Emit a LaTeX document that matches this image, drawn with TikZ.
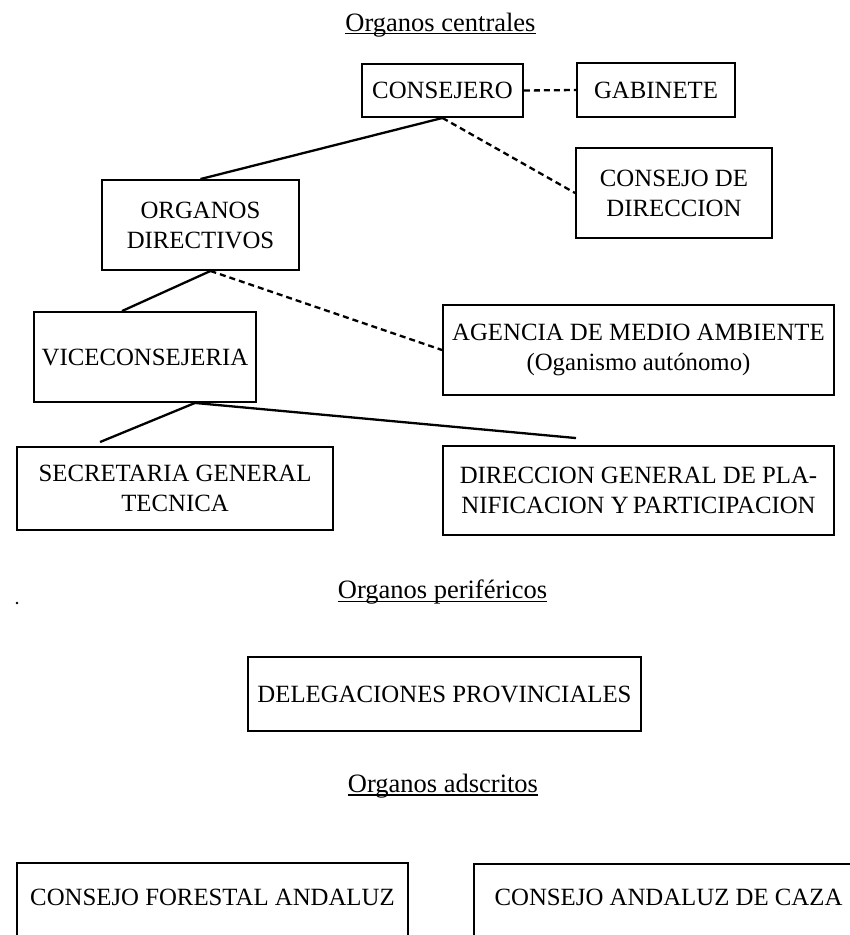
\documentclass[tikz,border=0pt]{standalone}
\usepackage{fontspec}
\setmainfont{Liberation Serif}
\usetikzlibrary{calc}
\newcommand\myboxfont{\fontsize{24.8pt}{30pt}\selectfont}
\newcommand\mytitlefont{\fontsize{26.5pt}{30pt}\selectfont}
\tikzset{
  orgbox/.style={draw, line width=1.9pt, inner sep=0pt, align=center, font=\myboxfont},
  orgframe/.style={draw, line width=1.9pt, inner sep=0pt},
  orgtxt/.style={inner sep=0pt, align=center, font=\myboxfont},
  orgtitle/.style={inner sep=0pt, font=\mytitlefont},
  uline/.style={line width=1.3pt},
  conn/.style={line width=2.3pt},
  dconn/.style={line width=2.3pt, dash pattern=on 6pt off 4pt}
}
\begin{document}
\begin{tikzpicture}[x=1pt,y=-1pt]
\useasboundingbox (0,0) rectangle (850,935);
\fill[white] (0,0) rectangle (850,935);

% titles
\node[orgtitle, anchor=base] (t1) at (440.5,31) {Organos centrales};
\draw[uline] ([yshift=-2.5pt]t1.base west) -- ([yshift=-2.5pt]t1.base east);
\node[orgtitle, anchor=base] (t2) at (442.5,598) {Organos periféricos};
\draw[uline] ([yshift=-3.5pt]t2.base west) -- ([yshift=-3.5pt]t2.base east);
\node[orgtitle, anchor=base] (t3) at (443,792) {Organos adscritos};
\draw[uline] ([yshift=-3pt]t3.base west) -- ([yshift=-3pt]t3.base east);

% boxes
\node[orgbox, minimum width=161pt, minimum height=53pt] (cons) at (442.5,90.5) {CONSEJERO};
\node[orgbox, minimum width=158pt, minimum height=54pt] (gab) at (656,90) {GABINETE};
\node[orgbox, minimum width=196pt, minimum height=90pt] (cdir) at (674,193) {CONSEJO DE\\DIRECCION};
\node[orgbox, minimum width=197pt, minimum height=90pt] (org) at (200.5,225) {ORGANOS\\DIRECTIVOS};
\node[orgbox, minimum width=222pt, minimum height=90pt] (vice) at (145,357) {VICECONSEJERIA};
\node[orgbox, minimum width=391pt, minimum height=90pt] (agen) at (638.5,350) {AGENCIA DE MEDIO AMBIENTE\\(Oganismo autónomo)};
\node[orgbox, minimum width=316pt, minimum height=83pt] (sec) at (175,488.5) {SECRETARIA GENERAL\\TECNICA};
\node[orgbox, minimum width=391pt, minimum height=89pt] (dir) at (638.5,490.5) {DIRECCION GENERAL DE PLA-\\NIFICACION Y\,PARTICIPACION};
\node[orgbox, minimum width=393pt, minimum height=74pt] (deleg) at (444.5,694) {DELEGACIONES PROVINCIALES};

% connectors
\draw[conn] (cons.south) -- (org.north);
\draw[dconn] (cons.south) -- (cdir.west);
\draw[dconn] (cons.east) -- (gab.west);
\coordinate (orgb) at ([xshift=10pt]org.south);
\draw[conn] (orgb) -- ([xshift=-23pt]vice.north);
\draw[dconn] (orgb) -- (agen.west);
\coordinate (viceb) at ([xshift=50pt]vice.south);
\draw[conn] (viceb) -- ([xshift=-75pt,yshift=4pt]sec.north);
\draw[conn] (viceb) -- ([xshift=-62.5pt,yshift=7pt]dir.north);

% stray dot
\fill (17,603) circle (1.3pt);

% bottom boxes (cut off by the page edge)
\begin{scope}
\clip (0,0) rectangle (850,935);
\node[orgframe, minimum width=391pt, minimum height=110pt] (forest) at (212.5,918) {};
\node[orgtxt] (forestt) at (212.5,897) {CONSEJO FORESTAL ANDALUZ};
\node[orgframe, minimum width=389pt, minimum height=110pt] (caza) at (668.5,919) {};
\node[orgtxt] (cazat) at (668.5,897) {CONSEJO ANDALUZ DE CAZA};
\end{scope}
\end{tikzpicture}
\end{document}
